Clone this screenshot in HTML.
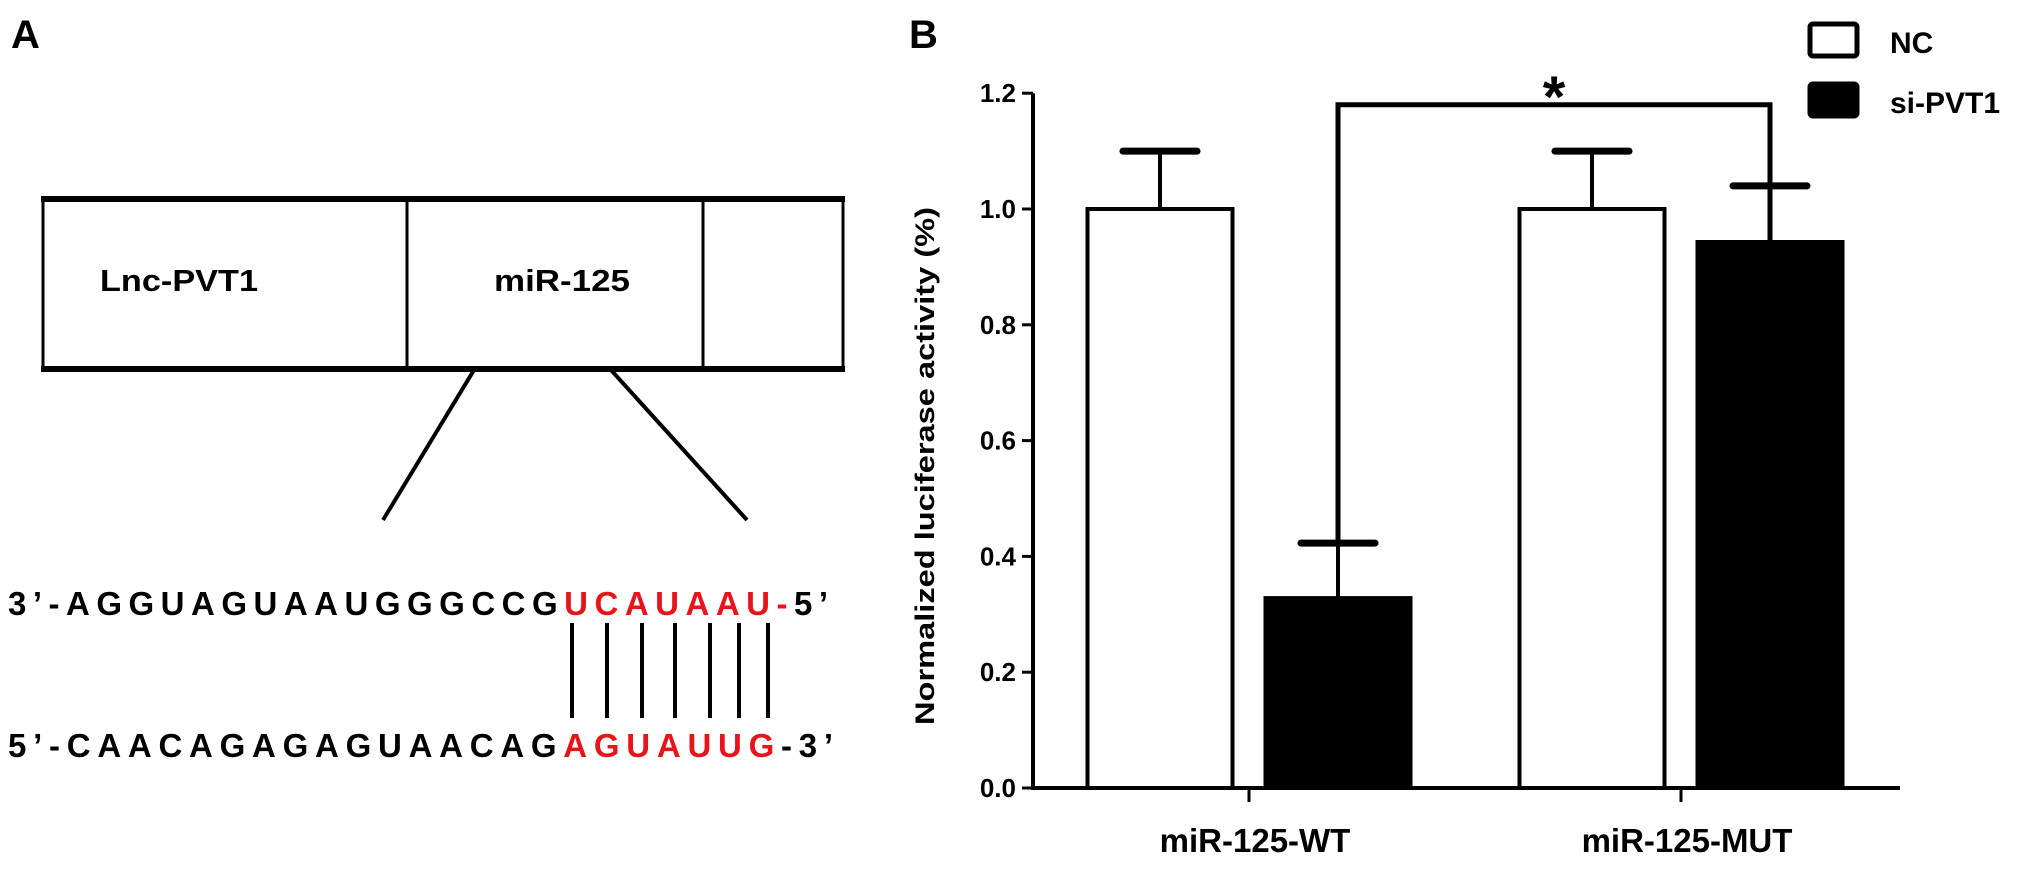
<!DOCTYPE html>
<html><head><meta charset="utf-8"><style>
html,body{margin:0;padding:0;background:#fff;}
svg{display:block;font-family:"Liberation Sans",Arial,sans-serif;font-weight:bold;}
</style></head><body>
<svg id="fig" width="2031" height="874" viewBox="0 0 2031 874" xmlns="http://www.w3.org/2000/svg">
  <g>
    <text x="11" y="48" font-size="40">A</text>
    <rect x="43" y="199" width="800" height="170" fill="none" stroke="#000" stroke-width="3"/>
    <line x1="41" y1="199" x2="845" y2="199" stroke="#000" stroke-width="6"/>
    <line x1="41" y1="369" x2="845" y2="369" stroke="#000" stroke-width="6"/>
    <line x1="407" y1="199" x2="407" y2="369" stroke="#000" stroke-width="3"/>
    <line x1="703" y1="199" x2="703" y2="369" stroke="#000" stroke-width="3"/>
    <text x="100" y="291" font-size="31" textLength="158" lengthAdjust="spacingAndGlyphs">Lnc-PVT1</text>
    <text x="494" y="291" font-size="31" textLength="136" lengthAdjust="spacingAndGlyphs">miR-125</text>
    <line x1="474" y1="370" x2="383" y2="520" stroke="#000" stroke-width="4"/>
    <line x1="611" y1="370" x2="747" y2="520" stroke="#000" stroke-width="4"/>
    <text x="8" y="615" font-size="33" textLength="820" lengthAdjust="spacing">3’-AGGUAGUAAUGGGCCG<tspan fill="#e8141b">UCAUAAU-</tspan>5’</text>
    <g stroke="#000" stroke-width="4">
      <line x1="572" y1="623" x2="572" y2="718"/>
      <line x1="607" y1="623" x2="607" y2="718"/>
      <line x1="642" y1="623" x2="642" y2="718"/>
      <line x1="675" y1="623" x2="675" y2="718"/>
      <line x1="710" y1="623" x2="710" y2="718"/>
      <line x1="739" y1="623" x2="739" y2="718"/>
      <line x1="768" y1="623" x2="768" y2="718"/>
    </g>
    <text x="8" y="757" font-size="33" textLength="825" lengthAdjust="spacing">5’-CAACAGAGAGUAACAG<tspan fill="#e8141b">AGUAUUG</tspan>-3’</text>
  </g>
  <g id="chart">
    <text x="909" y="48" font-size="40">B</text>
  </g>
</svg>
<script>
const categories = ["miR-125-WT", "miR-125-MUT"];
const seriesNames = ["NC", "si-PVT1"];
const ncValues = [1.0, 1.0];
const ncErrors = [0.1, 0.1];
const siValues = [0.328, 0.943];
const siErrors = [0.095, 0.097];
const yTicks = [0.0, 0.2, 0.4, 0.6, 0.8, 1.0, 1.2];
const yTickLabels = ["0.0", "0.2", "0.4", "0.6", "0.8", "1.0", "1.2"];
const sigBracketValue = 1.18;

const NS = "http://www.w3.org/2000/svg";
const g = document.getElementById("chart");
const X0 = 1033, XEND = 1900, Y0 = 788, PXU = 579;
function yS(v){ return Y0 - v * PXU; }
function xS(i){ return 1249 + 432 * i; }
function mk(tag, attrs){ const e = document.createElementNS(NS, tag); for (const k in attrs) e.setAttribute(k, attrs[k]); g.appendChild(e); return e; }

let ax = mk("line", {x1:X0, y1:yS(yTicks[yTicks.length-1]), x2:X0, y2:Y0+2, stroke:"#000", "stroke-width":4});


let axx = mk("line", {x1:X0-2, y1:Y0, x2:XEND, y2:Y0, stroke:"#000", "stroke-width":4});



yTicks.forEach((t, i) => {
  const tk = mk("line", {x1:X0-11, y1:yS(t), x2:X0, y2:yS(t), stroke:"#000", "stroke-width":3});
  
  
  const lb = mk("text", {x:X0-17, y:yS(t)+9, "font-size":26, "text-anchor":"end"});
  lb.textContent = yTickLabels[i];
  
  
});

const yt = mk("text", {x:0, y:0, "font-size":27, "text-anchor":"middle", transform:"translate(934,466) rotate(-90)", textLength:518, lengthAdjust:"spacingAndGlyphs"});
yt.textContent = "Normalized luciferase activity (%)";



const BW = 145, OFF = 89, CAP = 74;
function bar(cx, v, e, fill, name){
  const r = mk("rect", {x:cx-BW/2, y:yS(v), width:BW, height:Y0-yS(v), fill:fill, stroke:"#000", "stroke-width":4});
  
  
  const el = mk("line", {x1:cx, y1:yS(v), x2:cx, y2:yS(v+e), stroke:"#000", "stroke-width":4});
  
  
  const cp = mk("line", {x1:cx-CAP/2, y1:yS(v+e), x2:cx+CAP/2, y2:yS(v+e), stroke:"#000", "stroke-width":7, "stroke-linecap":"round"});
  
  
}
categories.forEach((c, i) => {
  bar(xS(i)-OFF, ncValues[i], ncErrors[i], "#fff", "bar-nc-" + i);
  bar(xS(i)+OFF, siValues[i], siErrors[i], "#000", "bar-si-pvt1-" + i);
  const tk = mk("line", {x1:xS(i), y1:Y0, x2:xS(i), y2:Y0+14, stroke:"#000", "stroke-width":3});
  
  
  const lb = mk("text", {x:xS(i)+6, y:852, "font-size":33, "text-anchor":"middle"});
  lb.textContent = c;
  
  
});

const bl = xS(0)+OFF, br = xS(1)+OFF, by = yS(sigBracketValue);
const brk = mk("path", {d:`M${bl},${yS(siValues[0]+siErrors[0])} L${bl},${by} L${br},${by} L${br},${yS(siValues[1])}`, fill:"none", stroke:"#000", "stroke-width":5});


const st = mk("text", {x:(bl+br)/2, y:by+12, "font-size":58, "text-anchor":"middle"});
st.textContent = "*";



const legY = [22, 82];
seriesNames.forEach((s, i) => {
  const b = mk("rect", {x:1810, y:legY[i]+2, width:47, height:32, fill:i===0?"#fff":"#000", stroke:"#000", "stroke-width":5, rx:3});
  
  
  const t = mk("text", {x:1890, y:legY[i]+31, "font-size":30});
  t.textContent = s;
  
  
});
</script>
</body></html>
